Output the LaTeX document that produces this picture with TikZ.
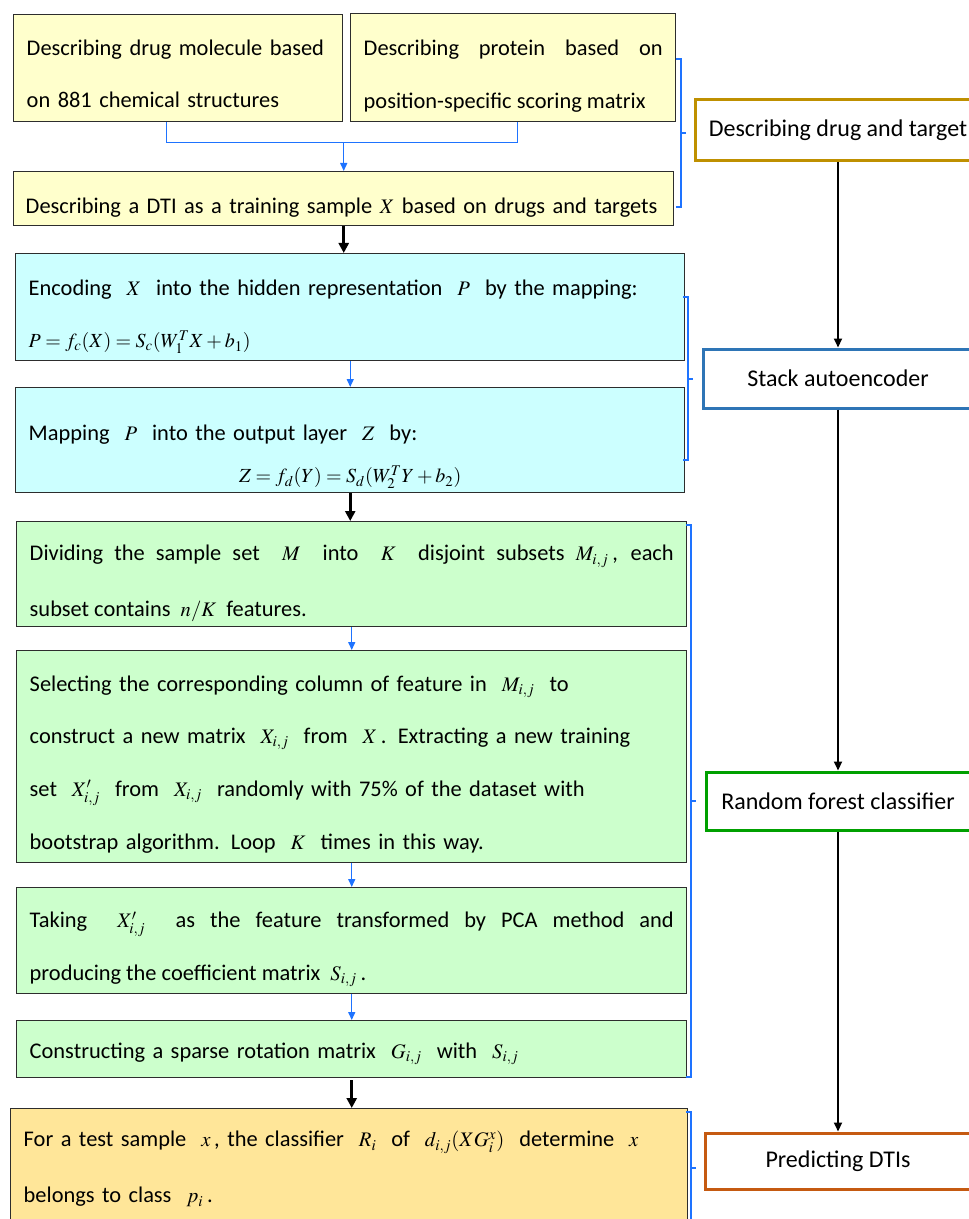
\documentclass[tikz,border=0pt]{standalone}
\usepackage{mathptmx}
\usepackage[no-math]{fontspec}
\setmainfont{Carlito}
\usetikzlibrary{arrows.meta}

% one drawing unit
\newdimen\pxu \pxu=0.75pt

\definecolor{boxedge}{RGB}{45,45,45}
\definecolor{yfill}{RGB}{255,255,204}
\definecolor{cfill}{RGB}{204,255,255}
\definecolor{gfill}{RGB}{204,255,204}
\definecolor{ofill}{RGB}{255,230,153}
\definecolor{linkblue}{RGB}{30,115,255}
\definecolor{goldedge}{RGB}{191,144,0}
\definecolor{steeledge}{RGB}{46,117,182}
\definecolor{greenedge}{RGB}{0,160,0}
\definecolor{rustedge}{RGB}{197,90,17}

% inline variables and display formulas in Times
\newcommand\mv[1]{{\fontsize{15.5}{15.5}\selectfont$#1$}}
\newcommand\eqn[1]{{\fontsize{15}{15}\selectfont$#1$}}

\tikzset{
  stage/.style={draw=boxedge, line width=1.1pt, rectangle, anchor=north west,
    inner xsep=9.75pt, inner ysep=0pt, font=\fontsize{16.8}{39.5}\selectfont},
  % pushes the text block of a box downwards
  drop/.style={execute at begin node={\rule{0pt}{#1}}},
  tag/.style={draw, line width=2.25pt, fill=white, rectangle, inner sep=0pt,
    font=\fontsize{18}{21}\selectfont},
  link/.style={draw=linkblue, line width=1.1pt},
  linkarrow/.style={link, -{Triangle[length=6pt, width=5.25pt]}},
  bigarrow/.style={draw=black, line width=2.25pt, -{Triangle[length=7.5pt, width=7.5pt]}},
  flowarrow/.style={draw=black, line width=1.5pt, -{Triangle[length=6.75pt, width=6pt]}},
  bracket/.style={draw=linkblue, line width=1.5pt},
}

\begin{document}
\begin{tikzpicture}[x=0.75pt, y=-0.75pt]
\useasboundingbox (0,0) rectangle (969,1219);
\clip (0,0) rectangle (969,1219);

% ---- stage 1: describing drug and target
\node[stage, fill=yfill, align=left, drop=20pt, text width=303\pxu, minimum height=107\pxu] (A) at (13,14)
  {Describing drug molecule based\\on 881 chemical structures};
\node[stage, fill=yfill, align=justify, drop=24.5pt, text width=299\pxu, minimum height=108\pxu] (B) at (350,13)
  {Describing protein based on\linebreak position-specific scoring matrix};
\node[stage, fill=yfill, align=left, drop=24.5pt, inner xsep=9pt, text width=636\pxu, minimum height=54\pxu] (C) at (13,171)
  {Describing a DTI as a training sample \mv{X} based on drugs and targets};

% ---- stage 2: stacked autoencoder
\node[stage, fill=cfill, align=left, drop=26pt, text width=643\pxu, minimum height=107\pxu] (E1) at (15,253)
  {Encoding~~\mv{X}~~into the hidden representation~~\mv{P}~~by the mapping:\\
   \eqn{P=f_c(X)=S_c(W_1^T X+b_1)}};
\node[stage, fill=cfill, align=left, drop=36.5pt, text width=643\pxu, minimum height=105\pxu] (E2) at (15,387)
  {Mapping~~\mv{P}~~into the output layer~~\mv{Z}~~by:\\[-7.5pt]
   \makebox[\linewidth][c]{\eqn{Z=f_d(Y)=S_d(W_2^T Y+b_2)}}};

% ---- stage 3: random forest
\node[stage, fill=gfill, align=justify, drop=26pt, font=\fontsize{16.8}{42}\selectfont,
      text width=644\pxu, minimum height=105\pxu] (F1) at (16,521)
  {Dividing the sample set~~\mv{M}~~into~~\mv{K}~~disjoint subsets~\mv{M_{i,j}}\,, each\linebreak
   subset contains~~\mv{n/K}~~features.};
\node[stage, fill=gfill, align=left, drop=23pt, text width=644\pxu, minimum height=212\pxu] (F2) at (16,650)
  {Selecting the corresponding column of feature in~~\mv{M_{i,j}}~~to\\
   construct a new matrix~~\mv{X_{i,j}}~~from~~\mv{X}\,. Extracting a new training\\
   set~~\mv{X'_{i,j}}~~from~~\mv{X_{i,j}}~~randomly with 75\% of the dataset with\\
   bootstrap algorithm. Loop~~\mv{K}~~times in this way.};
\node[stage, fill=gfill, align=justify, drop=24.5pt, text width=644\pxu, minimum height=106\pxu] (F3) at (16,887)
  {Taking~~\mv{X'_{i,j}}~~as the feature transformed by PCA method and\linebreak
   producing the coefficient matrix~~\mv{S_{i,j}}\,.};
\node[stage, fill=gfill, align=left, drop=18.5pt, text width=644\pxu, minimum height=57\pxu] (F4) at (16,1020)
  {Constructing a sparse rotation matrix~~\mv{G_{i,j}}~~with~~\mv{S_{i,j}}};

% ---- stage 4: prediction
\node[stage, fill=ofill, align=left, font=\fontsize{16.8}{42}\selectfont, text width=651\pxu,
      minimum height=121\pxu] (P) at (10,1108)
  {For a test sample~~\mv{x}\,, the classifier~~\mv{R_i}~~of~~\mv{d_{i,j}(XG_i^x)}~~determine~~\mv{x}\\
   belongs to class~~\mv{p_i}\,.};

% ---- links inside the stages
\coordinate (jn) at ([yshift=-15pt]C.north |- A.south);
\draw[link] ([xshift=-9pt]A.south) |- (jn) -| ([xshift=3pt]B.south);
\draw[linkarrow] (jn) -- (C.north);
\draw[linkarrow] (E1.south) -- (E1.south |- E2.north);
\draw[linkarrow] (F1.south) -- (F1.south |- F2.north);
\draw[linkarrow] (F2.south) -- (F2.south |- F3.north);
\draw[linkarrow] (F3.south) -- (F3.south |- F4.north);

% ---- links between the stages
\draw[bigarrow] (C.south) -- (C.south |- E1.north);
\draw[bigarrow] (E2.south) -- (E2.south |- F1.north);
\draw[bigarrow] ([yshift=-1.5pt]F4.south) -- (F4.south |- P.north);

% ---- brackets grouping each stage
\draw[bracket] (676,59) -- (681,59) -- (681,207) -- (676,207) (681,133) -- (686,133);
\draw[bracket] (683,297) -- (688,297) -- (688,460) -- (683,460) (688,379) -- (693,379);
\draw[bracket] (686,525) -- (691,525) -- (691,1077) -- (686,1077) (691,801) -- (696,801);
\draw[bracket] (686,1112) -- (691,1112) -- (691,1230) (691,1168) -- (696,1168);

% ---- overview column
\node[tag, draw=goldedge, minimum width=286\pxu, minimum height=61\pxu] (R1) at (838,130.5)
  {Describing drug and target};
\node[tag, draw=steeledge, minimum width=270\pxu, minimum height=59\pxu] (R2) at (838,378.5)
  {Stack autoencoder};
\node[tag, draw=greenedge, minimum width=264\pxu, minimum height=58\pxu] (R3) at (838,801)
  {Random forest classifier};
\node[tag, draw=rustedge, minimum width=266\pxu, minimum height=56\pxu] (R4) at (838,1161)
  {Predicting DTIs};

\draw[flowarrow] (R1.south) -- (R2.north);
\draw[flowarrow] (R2.south) -- (R3.north);
\draw[flowarrow] (R3.south) -- (R4.north);
\end{tikzpicture}
\end{document}
